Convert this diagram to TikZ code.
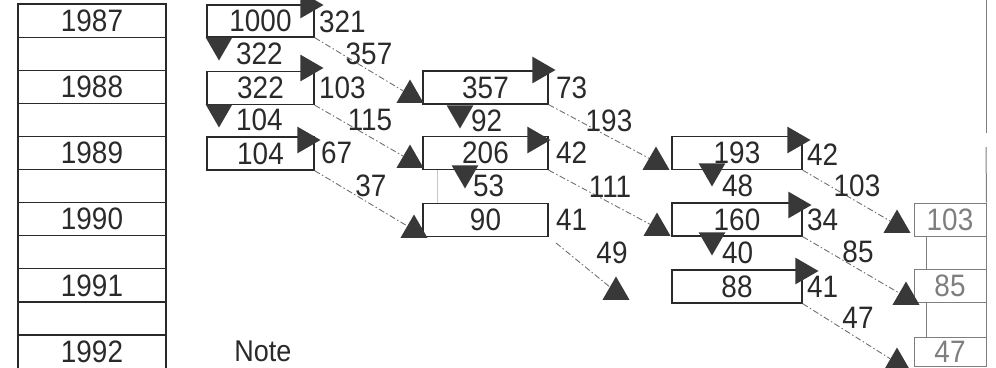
\documentclass[tikz,border=0pt]{standalone}
\usepackage{fontspec}
\setmainfont[FakeStretch=0.9]{Liberation Sans}
\usetikzlibrary{shapes.geometric,calc}
\definecolor{ink}{HTML}{2A2A2A}
\definecolor{trifill}{HTML}{383838}
\definecolor{dashc}{HTML}{707070}
\definecolor{lightink}{HTML}{7E7E7E}
\definecolor{faint}{HTML}{C8C8C8}
\begin{document}
\begin{tikzpicture}[x=1pt,y=-1pt,
  numfont/.style={font=\fontsize{31}{31}\selectfont},
  yearbox/.style={draw=ink, line width=1.2pt, inner sep=0pt, minimum width=148pt, minimum height=33.1pt, text=ink, numfont},
  box/.style={draw=ink, line width=1.3pt, inner sep=0pt, minimum height=33pt, text=ink, numfont},
  gbox/.style={draw=lightink, line width=1pt, inner sep=0pt, minimum width=72pt, minimum height=33pt, text=lightink, numfont},
  lab/.style={inner sep=0pt, text=ink, numfont},
  tri/.style={regular polygon, regular polygon sides=3, minimum size=31pt, inner sep=0pt, fill=trifill, draw=none},
  triup/.style={tri},
  tridown/.style={tri, regular polygon rotate=180},
  triright/.style={tri, regular polygon rotate=-90},
  diag/.style={draw=dashc, line width=0.9pt, dash pattern=on 6pt off 2.5pt on 1.5pt off 2.5pt},
  guide/.style={draw=lightink, line width=1pt},
  faintguide/.style={draw=faint, line width=0.9pt}
]
\useasboundingbox (0,0) rectangle (996,367);
\clip (0,0) rectangle (996,367);

% year column
\foreach \k/\yr in {0/1987,2/1988,4/1989,6/1990,8/1991,10/1992}
  \node[yearbox] (y\yr) at (92,{4+33.1*(\k+0.5)}) {\yr};
\foreach \k in {1,3,5,7,9}
  \node[yearbox] (gap\k) at (92,{4+33.1*(\k+0.5)}) {};

% main boxes
\node[box, minimum width=107pt, minimum height=32pt] (a1) at (260.5,21) {1000};
\node[box, minimum width=107pt] (a2) at (260.5,88) {322};
\node[box, minimum width=107pt] (a3) at (260.5,153.5) {104};
\node[box, minimum width=125pt] (b2) at (485.5,87.5) {357};
\node[box, minimum width=125pt] (b3) at (485.5,153) {206};
\node[box, minimum width=125pt] (b4) at (485.5,220) {90};
\node[box, minimum width=130pt] (c3) at (737,153) {193};
\node[box, minimum width=130pt] (c4) at (737,219.5) {160};
\node[box, minimum width=130pt] (c5) at (737,286.5) {88};
\node[gbox] (d4) at (950,219.5) {103};
\node[gbox] (d5) at (950,286) {85};
\node[gbox, minimum height=29pt] (d6) at (950,351.5) {47};

% guide lines
\draw[guide] (986,0) -- (986,133);
\draw[guide] (986,147) -- (d4.north east);
\draw[guide] (d4.south east) -- (d5.north east);
\draw[guide] (d5.south east) -- (d6.north east);
\draw[guide] ([xshift=13pt]d4.south west) -- ([xshift=13pt]d5.north west);
\draw[guide] ([xshift=13pt]d5.south west) -- ([xshift=13pt]d6.north west);
\draw[faintguide] ([xshift=15pt]b3.south west) -- ([xshift=15pt]b4.north west);

% right-pointing triangles
\node[triright] (ra1) at (308,5) {};
\node[triright] (ra2) at (308,68) {};
\node[triright] (ra3) at (305,140) {};
\node[triright] (rb2) at (540,70) {};
\node[triright] (rb3) at (535,140) {};
\node[triright] (rc3) at (795,140) {};
\node[triright] (rc4) at (796,205) {};
\node[triright] (rc5) at (803,271) {};

% down-pointing triangles
\node[tridown] (da1) at (219,45) {};
\node[tridown] (da2) at (219,112) {};
\node[tridown] (db2) at (460,113) {};
\node[tridown] (db3) at (465,173) {};
\node[tridown] (dc3) at (712,171) {};
\node[tridown] (dc4) at (712,240) {};

% up-pointing triangles
\node[triup] (ub2) at (410,95) {};
\node[triup] (ub3) at (410,160) {};
\node[triup] (ub4) at (414,230) {};
\node[triup] (uc3) at (656,162) {};
\node[triup] (uc4) at (657,228) {};
\node[triup] (ufree) at (616,292) {};
\node[triup] (ud4) at (897,225) {};
\node[triup] (ud5) at (906,297) {};
\node[triup] (ud6) at (897,363) {};

% diagonal connectors
\coordinate (s49) at (556,243);
\draw[diag] (a1.south east) -- (ub2);
\draw[diag] (a2.south east) -- (ub3);
\draw[diag] (a3.south east) -- (ub4);
\draw[diag] (b2.south east) -- (uc3);
\draw[diag] (b3.south east) -- (uc4);
\draw[diag] (s49) -- (ufree);
\draw[diag] (c3.south east) -- (ud4);
\draw[diag] (c4.south east) -- (ud5);
\draw[diag] (c5.south east) -- (ud6);

% labels to the right
\node[lab, anchor=west] (l321) at (319,22) {321};
\node[lab, anchor=west] (l103a) at (319,88) {103};
\node[lab, anchor=west] (l67) at (321,153) {67};
\node[lab, anchor=west] (l73) at (556,88) {73};
\node[lab, anchor=west] (l42a) at (556,153) {42};
\node[lab, anchor=west] (l41a) at (556,220) {41};
\node[lab, anchor=west] (l42b) at (807,155) {42};
\node[lab, anchor=west] (l34) at (807,220) {34};
\node[lab, anchor=west] (l41b) at (807,287) {41};

% labels below
\node[lab, anchor=west] (l322) at (236,54) {322};
\node[lab, anchor=west] (l104) at (236,120) {104};
\node[lab, anchor=west] (l92) at (471,121) {92};
\node[lab, anchor=west] (l53) at (473,186) {53};
\node[lab, anchor=west] (l48) at (722,186) {48};
\node[lab, anchor=west] (l40) at (722,253) {40};

% diagonal labels
\node[lab] (l357) at (369,54) {357};
\node[lab] (l115) at (370,120) {115};
\node[lab] (l37) at (371,186) {37};
\node[lab] (l193) at (609,121) {193};
\node[lab] (l111) at (610,187) {111};
\node[lab] (l49) at (612,253) {49};
\node[lab] (l103b) at (857,186) {103};
\node[lab] (l85) at (858,252) {85};
\node[lab] (l47) at (858,318) {47};

% note
\node[lab, font=\fontsize{30}{30}\selectfont] (note) at (263,351) {Note};
\end{tikzpicture}
\end{document}
